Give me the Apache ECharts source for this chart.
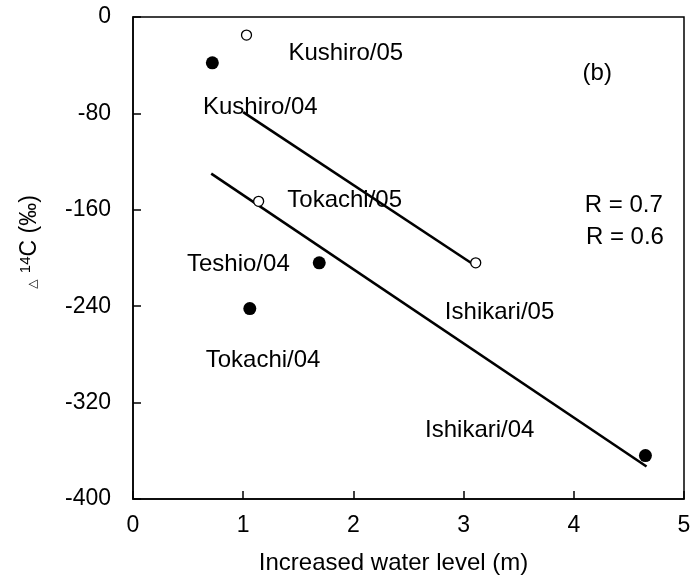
<!DOCTYPE html>
<html>
<head>
<meta charset="utf-8">
<script src="https://cdn.jsdelivr.net/npm/echarts@6/dist/echarts.min.js"></script>
<style>html,body{margin:0;padding:0;background:#fff}#c{width:694px;height:580px}</style>
</head>
<body>
<div id="c"></div>
<script>
// ---- data ----
const sites05 = ['Kushiro/05', 'Tokachi/05', 'Ishikari/05'];
const x05 = [1.03, 1.14, 3.11];
const y05 = [-15, -153, -204];

const sites04 = ['Kushiro/04', 'Teshio/04', 'Tokachi/04', 'Ishikari/04'];
const x04 = [0.72, 1.69, 1.06, 4.65];
const y04 = [-38, -204, -242, -364];

const fit05X = [1.0, 3.1];
const fit05Y = [-79, -206];
const fit04X = [0.71, 4.66];
const fit04Y = [-130, -373];

const xTicks = [0, 1, 2, 3, 4, 5];
const yTicks = [0, -80, -160, -240, -320, -400];

const noteTexts = ['Kushiro/05', 'Kushiro/04', 'Tokachi/05', 'Teshio/04', 'Tokachi/04',
                   'Ishikari/05', 'Ishikari/04', '(b)', 'R = 0.7', 'R = 0.6'];
// annotation anchor positions (data coords, left edge / vertical middle)
const noteX = [1.41, 0.635, 1.40, 0.49, 0.66, 2.83, 2.65, 4.08, 4.10, 4.11];
const noteY = [-30, -75, -152, -205, -285, -245, -343, -47, -156, -183];

// ---- chart ----
const FONT = 'Liberation Sans, Arial, sans-serif';
const chart = echarts.init(document.getElementById('c'), null, {renderer: 'canvas'});

const zip = (a, b) => a.map((v, i) => [v, b[i]]);

chart.setOption({
  animation: false,
  backgroundColor: '#fff',
  grid: {left: 133, right: 10, top: 17, bottom: 81, show: true, borderColor: '#000', borderWidth: 1.5, containLabel: false},
  xAxis: {
    type: 'value', min: xTicks[0], max: xTicks[xTicks.length - 1], interval: 1,
    name: 'Increased water level (m)', nameLocation: 'middle', nameGap: 52,
    nameTextStyle: {fontFamily: FONT, fontSize: 24, color: '#000', padding: [0, 30, 0, 0]},
    axisLine: {show: true, onZero: false, lineStyle: {color: '#000', width: 1.5}},
    axisTick: {show: true, inside: true, length: 8, lineStyle: {color: '#000', width: 1.5}},
    axisLabel: {fontFamily: FONT, fontSize: 23, color: '#000', margin: 15},
    splitLine: {show: false}
  },
  yAxis: {
    type: 'value', min: yTicks[yTicks.length - 1], max: yTicks[0], interval: 80,
    name: '{tri|△} {sup|14}C (‰)', nameLocation: 'middle', nameGap: 92, nameRotate: 90,
    nameTextStyle: {
      fontFamily: FONT, fontSize: 23, color: '#000', padding: [0, 0, 0, 32],
      rich: {
        tri: {fontSize: 12, fontFamily: 'DejaVu Sans', color: '#000', verticalAlign: 'bottom', padding: [0, 0, 2, 0]},
        sup: {fontSize: 15, fontFamily: FONT, color: '#000', verticalAlign: 'top'}
      }
    },
    axisLine: {show: true, onZero: false, lineStyle: {color: '#000', width: 1.5}},
    axisTick: {show: true, inside: true, length: 8, lineStyle: {color: '#000', width: 1.5}},
    axisLabel: {fontFamily: FONT, fontSize: 23, color: '#000', margin: 22},
    splitLine: {show: false}
  },
  series: [
    {
      type: 'line', data: zip(fit05X, fit05Y), symbol: 'none', silent: true,
      lineStyle: {color: '#000', width: 2.6, opacity: 1}, z: 2
    },
    {
      type: 'line', data: zip(fit04X, fit04Y), symbol: 'none', silent: true,
      lineStyle: {color: '#000', width: 2.6, opacity: 1}, z: 2
    },
    {
      type: 'scatter', name: '05', data: zip(x05, y05), symbol: 'circle', symbolSize: 10,
      itemStyle: {color: '#fff', borderColor: '#000', borderWidth: 1.3, opacity: 1}, z: 3
    },
    {
      type: 'scatter', name: '04', data: zip(x04, y04), symbol: 'circle', symbolSize: 13,
      itemStyle: {color: '#000', opacity: 1}, z: 3
    },
    {
      type: 'scatter', silent: true, symbolSize: 0, z: 4,
      itemStyle: {opacity: 1},
      data: noteTexts.map((t, i) => ({name: t, value: [noteX[i], noteY[i]]})),
      label: {
        show: true, position: 'right', distance: 0, formatter: p => p.name, opacity: 1,
        fontFamily: FONT, fontSize: 24, color: '#000', verticalAlign: 'middle', align: 'left'
      }
    }
  ]
});
</script>
</body>
</html>
